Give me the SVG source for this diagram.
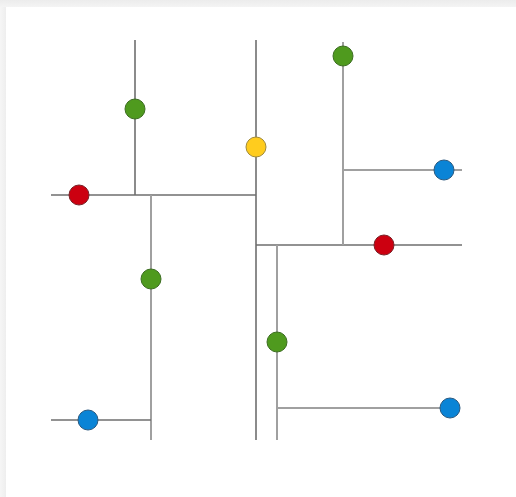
<svg xmlns="http://www.w3.org/2000/svg" width="516" height="497" viewBox="0 0 516 497">
  <defs>
    <linearGradient id="topShade" x1="0" y1="0" x2="0" y2="1">
      <stop offset="0" stop-color="#ececec"/>
      <stop offset="1" stop-color="#f4f4f4"/>
    </linearGradient>
    <linearGradient id="leftShade" x1="0" y1="0" x2="1" y2="0">
      <stop offset="0" stop-color="#f6f6f6"/>
      <stop offset="1" stop-color="#eeeeee"/>
    </linearGradient>
  </defs>
  <style>
    .wire { stroke: #6e6e6e; stroke-width: 1.6; fill: none; }
    .wire.light { stroke: #a0a0a0; stroke-width: 2; }
    .dot { stroke-width: 1; }
    .green { fill: #4f9a1e; stroke: #3d6e22; }
    .red { fill: #cc0010; stroke: #7a2228; }
    .yellow { fill: #ffcc1e; stroke: #a08a3a; }
    .blue { fill: #0a84d6; stroke: #2c5a80; }
  </style>

  <!-- page frame -->
  <rect x="0" y="0" width="516" height="497" fill="#ffffff"/>
  <rect x="0" y="0" width="6" height="497" fill="url(#leftShade)"/>
  <rect x="0" y="0" width="516" height="7" fill="url(#topShade)"/>

  <!-- connecting lines -->
  <g id="connectors">
    <line class="wire" x1="135" y1="40" x2="135" y2="195"/>
    <line class="wire" x1="256" y1="40" x2="256" y2="440"/>
    <line class="wire" x1="51" y1="195" x2="256" y2="195"/>
    <line class="wire light" x1="151" y1="195" x2="151" y2="440"/>
    <line class="wire" x1="51" y1="420" x2="151" y2="420"/>
    <line class="wire" x1="256" y1="245" x2="462" y2="245"/>
    <line class="wire light" x1="343" y1="42" x2="343" y2="245"/>
    <line class="wire light" x1="343" y1="170" x2="462" y2="170"/>
    <line class="wire light" x1="277" y1="245" x2="277" y2="440"/>
    <line class="wire light" x1="277" y1="408" x2="450" y2="408"/>
  </g>

  <!-- markers -->
  <g id="n-green-1"><circle class="dot green" cx="135" cy="109" r="10"/></g>
  <g id="n-yellow"><circle class="dot yellow" cx="256" cy="147" r="10"/></g>
  <g id="n-red-1"><circle class="dot red" cx="79" cy="195" r="10"/></g>
  <g id="n-green-2"><circle class="dot green" cx="151" cy="279" r="10"/></g>
  <g id="n-blue-1"><circle class="dot blue" cx="88" cy="420" r="10"/></g>
  <g id="n-green-3"><circle class="dot green" cx="343" cy="56" r="10"/></g>
  <g id="n-blue-2"><circle class="dot blue" cx="444" cy="170" r="10"/></g>
  <g id="n-red-2"><circle class="dot red" cx="384" cy="245" r="10"/></g>
  <g id="n-green-4"><circle class="dot green" cx="277" cy="342" r="10"/></g>
  <g id="n-blue-3"><circle class="dot blue" cx="450" cy="408" r="10"/></g>
</svg>
